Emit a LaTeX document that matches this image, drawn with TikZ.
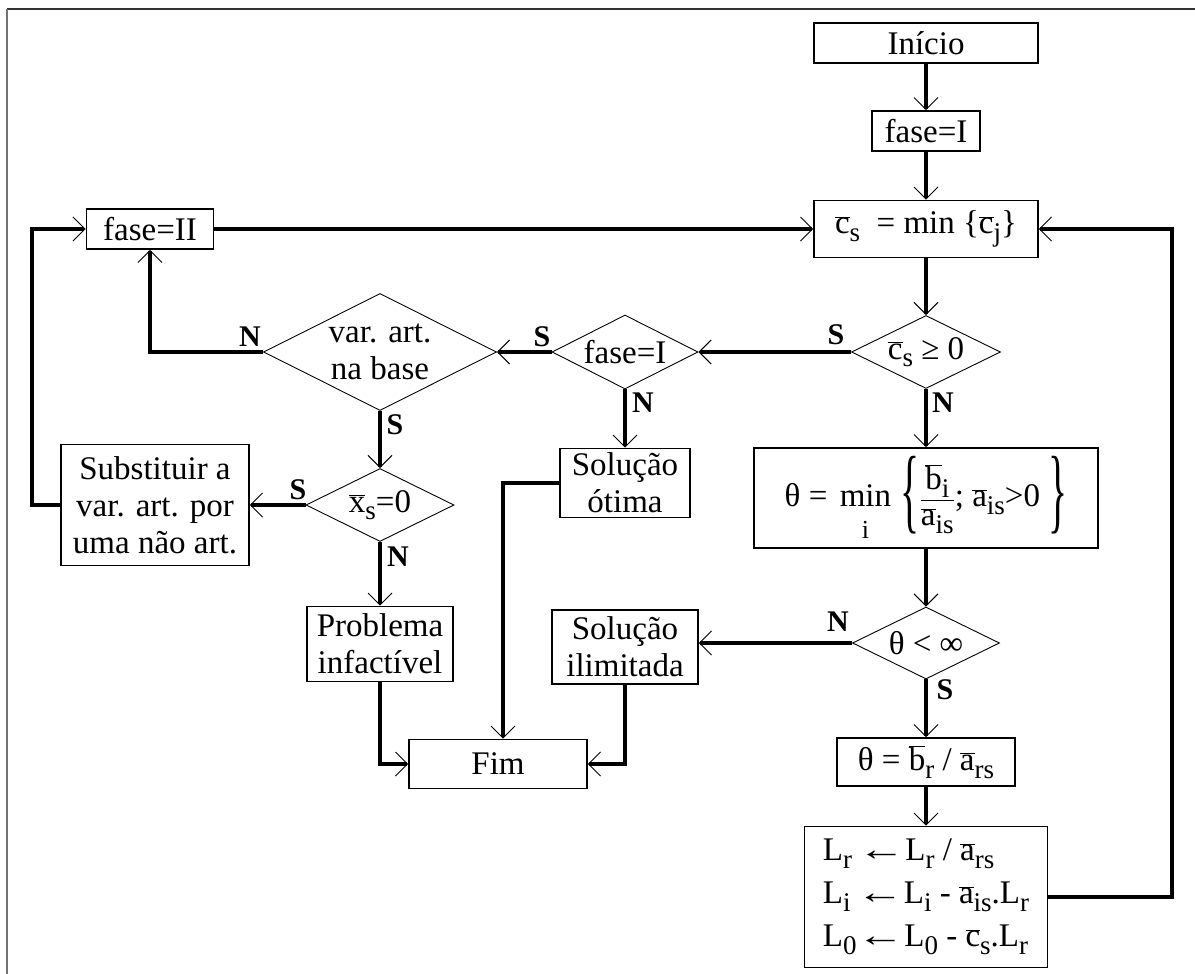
\documentclass[tikz,border=0pt]{standalone}
\usepackage{fontspec}
\setmainfont{Liberation Serif}
\usetikzlibrary{shapes.geometric,arrows.meta}
\newcommand\ov[1]{\ensuremath{\overline{\mbox{#1}}}}
\newcommand\lo[1]{\raisebox{-0.5ex}{\fontsize{27}{27}\selectfont #1}}
\newcommand\larr{\scalebox{1.45}[1]{←}}
\newcommand\bigbr[1]{\raisebox{-15pt}{\scalebox{1.2}[2.85]{#1}}}
\begin{document}
\begin{tikzpicture}[x=1pt,y=-1pt,
  every node/.style={font=\fontsize{33}{37}\selectfont, inner sep=0pt, align=center},
  box/.style={draw, rectangle, line width=1.6pt},
  dec/.style={draw, diamond, aspect=2, line width=0.9pt, inner sep=-10pt},
  lab/.style={font=\fontsize{30}{30}\selectfont\bfseries},
  conn/.style={line width=3.2pt, -{Straight Barb[length=12pt,width=24pt,line width=1pt]}}]
\useasboundingbox (0,0) rectangle (1195,974);
\fill[white] (0,0) rectangle (1195,974);
\draw[line width=2pt, black!80] (7,9) -- (1195,9);
\draw[line width=2pt, black!55] (7,9) -- (7,974);

\node[box, minimum width=224, minimum height=40] (ini) at (926,43) {Início};
\node[box, minimum width=108, minimum height=40] (f1) at (926,131) {fase=I};
\node[box, minimum width=224, minimum height=57] (cs) at (926,229) {\ov{c}\lo{s}\ \ = min \{\ov{c}\lo{j}\}};
\node[dec, minimum width=149, minimum height=73] (csge) at (926,352) {\ov{c}\lo{s} ≥ 0};
\node[dec, minimum width=146, minimum height=74] (fd) at (625,352) {fase=I};
\node[dec, minimum width=233, minimum height=117] (var) at (380,352) {var. art.\\na base};
\node[box, minimum width=127, minimum height=40] (f2) at (150,229) {fase=II};
\node[dec, minimum width=148, minimum height=73] (xs) at (380,505) {\ov{x}\lo{s}=0};
\node[box, minimum width=188, minimum height=121] (sub) at (155,505) {Substituir a\\var. art. por\\uma não art.};
\node[box, minimum width=130, minimum height=69] (sot) at (625,483) {Solução\\ótima};
\node[box, minimum width=344, minimum height=100] (tmin) at (926,498)
  {$\mbox{θ = }\mathop{\mbox{min}}\limits_{\rule{0pt}{30pt}\mbox{\fontsize{26}{26}\selectfont i}}\mbox{\,\bigbr{\{}}\displaystyle\frac{\mbox{\ov{b}\lo{i}\rule[-4pt]{0pt}{4pt}}}{\mbox{\rule{0pt}{24pt}\ov{a}\lo{is}}}\mbox{; \ov{a}\lo{is}>0\ \bigbr{\}}}$};
\node[box, minimum width=146, minimum height=75] (prob) at (380,644) {Problema\\infactível};
\node[box, minimum width=146, minimum height=74] (ilim) at (625,647) {Solução\\ilimitada};
\node[dec, minimum width=147, minimum height=72] (tinf) at (926,643) {θ < ∞};
\node[box, minimum width=178, minimum height=49] (fim) at (498,764) {Fim};
\node[box, minimum width=178, minimum height=48] (tbr) at (926,762) {θ = \ov{b}\lo{r} / \ov{a}\lo{rs}};
\node[box, minimum width=243, minimum height=141, align=left, font=\fontsize{33}{43}\selectfont] (L) at (926,897)
  {L\lo{r}\,\larr L\lo{r} / \ov{a}\lo{rs}\\L\lo{i}\,\larr L\lo{i} - \ov{a}\lo{is}.L\lo{r}\\L\lo{0}\larr L\lo{0} - \ov{c}\lo{s}.L\lo{r}};

\node[lab] (s1) at (836,335) {S};
\node[lab] (n1) at (943,403) {N};
\node[lab] (s2) at (542,337) {S};
\node[lab] (n2) at (643,403) {N};
\node[lab] (n3) at (250,337) {N};
\node[lab] (s3) at (395,425) {S};
\node[lab] (s4) at (298,490) {S};
\node[lab] (n4) at (398,557) {N};
\node[lab] (n5) at (838,622) {N};
\node[lab] (s5) at (945,690) {S};

\coordinate (lc) at (32,505);
\coordinate (rc) at (1172,897);
\coordinate (x503) at (503,0);

\draw[conn] (ini.south) -- (f1.north);
\draw[conn] (f1.south) -- (cs.north);
\draw[conn] (cs.south) -- (csge.north);
\draw[conn] (csge.west) -- (fd.east);
\draw[conn] (fd.west) -- (var.east);
\draw[conn] (fd.south) -- (sot.north);
\draw[conn] (var.west) -| (f2.south);
\draw[conn] (f2.east) -- (cs.west);
\draw[conn] (var.south) -- (xs.north);
\draw[conn] (xs.west) -- (sub.east);
\draw[conn] (sub.west) -- (lc) |- (f2.west);
\draw[conn] (xs.south) -- (prob.north);
\draw[conn] (csge.south) -- (tmin.north);
\draw[conn] (tmin.south) -- (tinf.north);
\draw[conn] (tinf.west) -- (tinf.west -| ilim.east);
\draw[conn] (tinf.south) -- (tbr.north);
\draw[conn] (tbr.south) -- (L.north);
\draw[conn] (L.east) -- (rc) |- (cs.east);
\draw[conn] (prob.south) |- (fim.west);
\draw[conn] (ilim.south) |- (fim.east);
\draw[conn] (sot.west) -- (sot.west -| x503) -- (x503 |- fim.north);
\end{tikzpicture}
\end{document}
